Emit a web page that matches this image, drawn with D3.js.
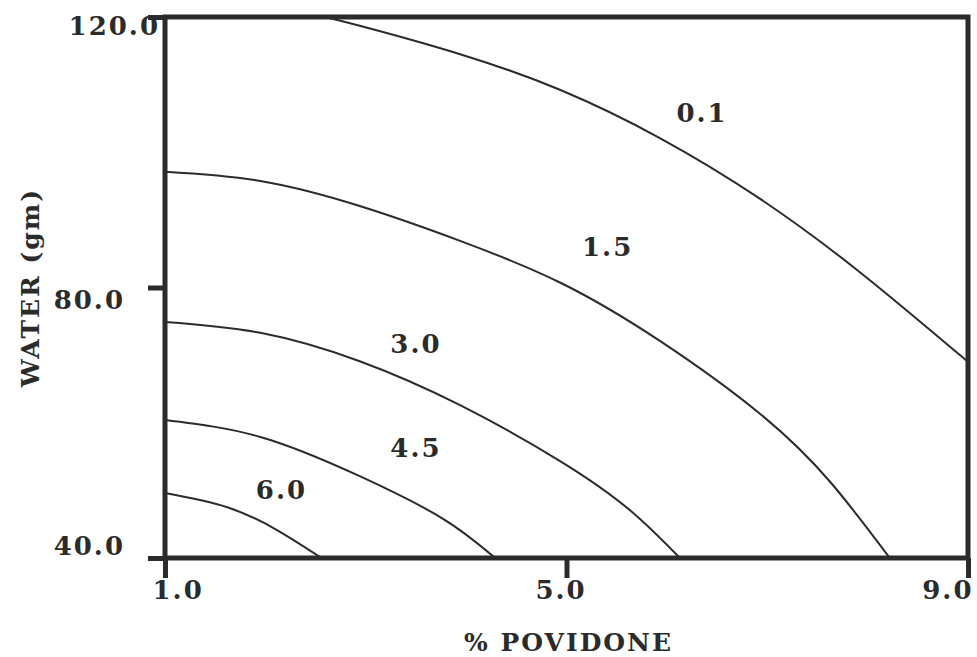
<!DOCTYPE html>
<html>
<head>
<meta charset="utf-8">
<script src="https://cdn.jsdelivr.net/npm/d3@7"></script>
<style>
  body { margin: 0; background: #fff; }
  text { font-family: "DejaVu Serif", serif; font-weight: bold; fill: #2b2b2b; }
</style>
</head>
<body>
<svg id="chart" width="977" height="657"></svg>
<script>
// ticks
const povidoneTicks = [1, 5, 9];
const waterTicks = [40, 80, 120];

// contour levels and their traced lines: [% povidone, water (gm)]
const levels = ["0.1", "1.5", "3.0", "4.5", "6.0"];
const contour01 = [[2.59, 120], [2.94, 118.7], [3.94, 114.5], [4.94, 109.2], [5.93, 102.1], [6.93, 93.1], [7.92, 82.3], [9.0, 69.0]];
const contour15 = [[1, 97.1], [1.95, 95.75], [2.94, 92.05], [3.94, 86.9], [4.94, 80.7], [5.93, 72.1], [6.93, 61.3], [7.63, 51.2], [8.22, 40]];
const contour30 = [[1, 74.9], [1.95, 73.3], [2.94, 69.1], [3.94, 62.6], [4.94, 54.3], [5.63, 47.1], [6.13, 40]];
const contour45 = [[1, 60.4], [1.95, 57.9], [2.94, 52.1], [3.77, 45.8], [4.29, 40]];
const contour60 = [[1, 49.6], [1.62, 47.5], [2.12, 44.1], [2.56, 40]];
const contours = [contour01, contour15, contour30, contour45, contour60];

// where each level label sits, in data units
const labelPoints = [[6.35, 105.8], [5.41, 86.0], [3.5, 71.6], [3.5, 56.3], [2.16, 50.1]];

const margin = { top: 17, right: 9, bottom: 99, left: 165 };
const width = 977 - margin.left - margin.right;
const height = 657 - margin.top - margin.bottom;
const ink = "#2b2b2b";

const svg = d3.select("#chart");
const g = svg.append("g").attr("transform", `translate(${margin.left},${margin.top})`);

const x = d3.scaleLinear().domain([1, 9]).range([0, width]);
const y = d3.scaleLinear().domain([40, 120]).range([height, 0]);

g.append("clipPath").attr("id", "plot-clip")
  .append("rect").attr("width", width).attr("height", height);

// contour lines
const line = d3.line()
  .x(d => x(d[0]))
  .y(d => y(d[1]))
  .curve(d3.curveNatural);

g.append("g")
  .attr("clip-path", "url(#plot-clip)")
  .selectAll("path")
  .data(contours)
  .enter()
  .append("path")
  .attr("d", line)
  .attr("fill", "none")
  .attr("stroke", ink)
  .attr("stroke-width", 2);

// contour labels
g.append("g")
  .selectAll("text")
  .data(levels)
  .enter()
  .append("text")
  .attr("x", (d, i) => x(labelPoints[i][0]))
  .attr("y", (d, i) => y(labelPoints[i][1]))
  .attr("text-anchor", "middle")
  .attr("dominant-baseline", "central")
  .attr("font-size", 26)
  .attr("letter-spacing", 2)
  .text(d => d);

// x axis
const xAxis = g.append("g")
  .attr("transform", `translate(0,${height})`)
  .call(d3.axisBottom(x).tickValues(povidoneTicks).tickSize(20).tickFormat(d3.format(".1f")));
xAxis.select(".domain").remove();
xAxis.selectAll(".tick line").attr("stroke", ink).attr("stroke-width", 5);
xAxis.selectAll(".tick text")
  .attr("font-size", 26)
  .attr("letter-spacing", 2)
  .attr("fill", ink)
  .attr("y", 23)
  .attr("text-anchor", (d, i) => i === 0 ? "start" : i === povidoneTicks.length - 1 ? "end" : "middle")
  .attr("dx", (d, i) => i === 0 ? -13 : i === povidoneTicks.length - 1 ? 5 : -6);

// y axis
const yAxis = g.append("g")
  .call(d3.axisLeft(y).tickValues(waterTicks).tickSize(17).tickFormat(d3.format(".1f")));
yAxis.select(".domain").remove();
yAxis.selectAll(".tick line").attr("stroke", ink).attr("stroke-width", 5);
yAxis.selectAll(".tick text")
  .attr("font-size", 26)
  .attr("letter-spacing", 2)
  .attr("fill", ink)
  .attr("x", d => d === 120 ? -5 : -40)
  .attr("dy", (d, i) => i === 0 ? -13 : i === waterTicks.length - 1 ? 8 : 12)
  .attr("dominant-baseline", "central");

// frame
g.append("rect")
  .attr("width", width)
  .attr("height", height)
  .attr("fill", "none")
  .attr("stroke", ink)
  .attr("stroke-width", 5);

// axis titles
svg.append("text")
  .attr("x", margin.left + width / 2 + 2)
  .attr("y", 642)
  .attr("text-anchor", "middle")
  .attr("dominant-baseline", "central")
  .attr("font-size", 25)
  .attr("letter-spacing", 2)
  .text("% POVIDONE");

svg.append("text")
  .attr("transform", `translate(30,${margin.top + y(80)}) rotate(-90)`)
  .attr("text-anchor", "middle")
  .attr("dominant-baseline", "central")
  .attr("font-size", 25)
  .attr("letter-spacing", 2)
  .text("WATER (gm)");
</script>
</body>
</html>
